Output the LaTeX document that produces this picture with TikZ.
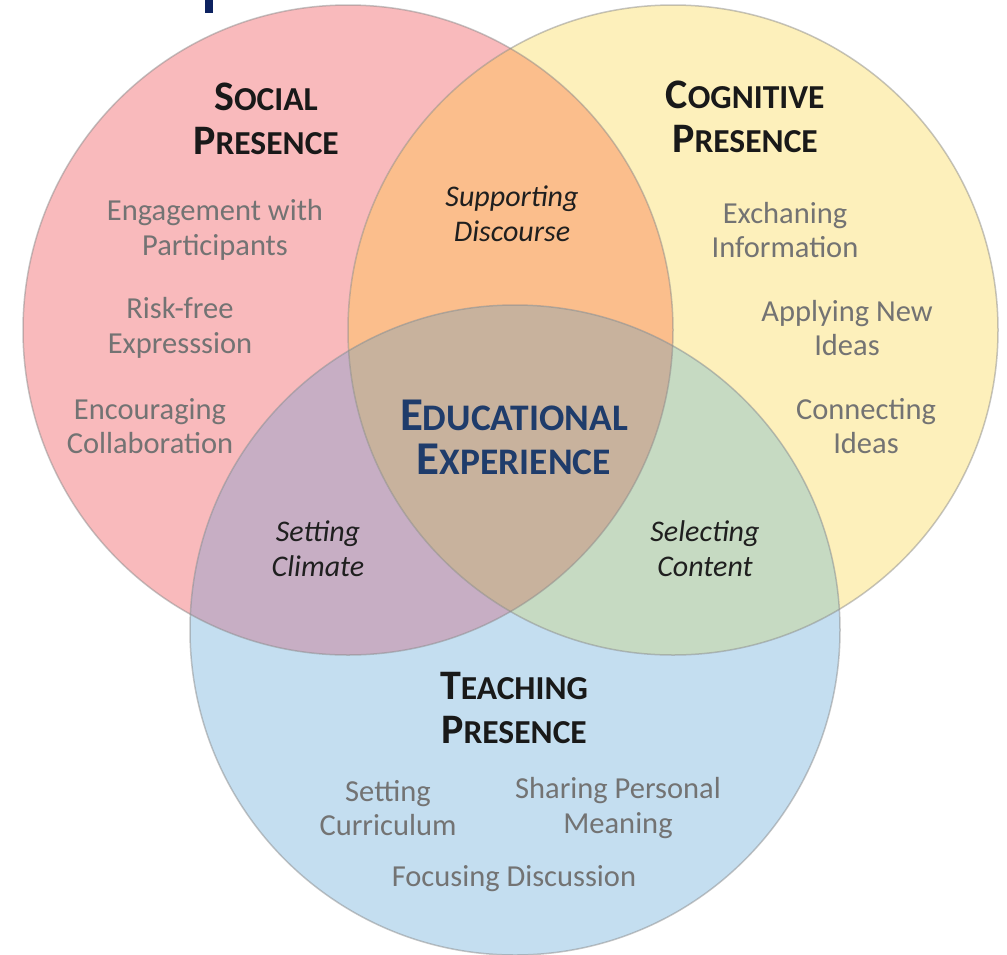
\documentclass[tikz,border=0pt]{standalone}
\usepackage{fontspec}
\setmainfont{Carlito}
\definecolor{socialfill}{HTML}{F9BABC}
\definecolor{cognitivefill}{HTML}{FDF0BB}
\definecolor{teachingfill}{HTML}{C4DEF0}
\definecolor{discoursefill}{HTML}{FBBE8C}
\definecolor{climatefill}{HTML}{C7AEC4}
\definecolor{contentfill}{HTML}{C6DAC2}
\definecolor{experiencefill}{HTML}{C8B29D}
\definecolor{experiencetext}{HTML}{1F3C6B}
\definecolor{topbar}{HTML}{0D2260}
% fake small caps: big first letter, smaller rest
\newcommand{\bigsmall}[2]{{\fontsize{42}{44}\selectfont #1}{\fontsize{33.5}{44}\selectfont #2}}
\newcommand{\hugesmall}[2]{{\fontsize{47}{49}\selectfont #1}{\fontsize{37.5}{49}\selectfont #2}}
\begin{document}
\begin{tikzpicture}[x=1pt,y=-1pt]
	\tikzset{item/.style={align=center, text=black!55, font=\fontsize{30.5}{34.5}\selectfont},
		overlap/.style={align=center, text=black!88, font=\itshape\fontsize{30}{35}\selectfont},
		heading/.style={align=center, text=black!90, font=\bfseries\fontsize{30}{44}\selectfont},
		rim/.style={draw=black!45, draw opacity=0.5, line width=1.5pt}};
	\useasboundingbox (0,0) rectangle (1007,954);
	\coordinate (social) at (348,330);
	\coordinate (cognitive) at (673,330);
	\coordinate (teaching) at (515,630);

	\fill[topbar] (205,0) rectangle (213,13);

	\fill[socialfill] (social) circle (325pt);
	\fill[cognitivefill] (cognitive) circle (325pt);
	\fill[teachingfill] (teaching) circle (325pt);
	\begin{scope}
		\clip (social) circle (325pt);
		\fill[discoursefill] (cognitive) circle (325pt);
		\fill[climatefill] (teaching) circle (325pt);
	\end{scope}
	\begin{scope}
		\clip (cognitive) circle (325pt);
		\fill[contentfill] (teaching) circle (325pt);
	\end{scope}
	\begin{scope}
		\clip (social) circle (325pt);
		\clip (cognitive) circle (325pt);
		\fill[experiencefill] (teaching) circle (325pt);
	\end{scope}
	\foreach \c in {social, cognitive, teaching}
		\draw[rim] (\c) circle (325pt);

	\node[heading] (socialhead) at (266,119) {\bigsmall{S}{OCIAL}\\\bigsmall{P}{RESENCE}};
	\node[heading] (cognitivehead) at (745,117) {\bigsmall{C}{OGNITIVE}\\\bigsmall{P}{RESENCE}};
	\node[heading] (teachinghead) at (514,708) {\bigsmall{T}{EACHING}\\\bigsmall{P}{RESENCE}};
	\node[heading, text=experiencetext] (experience) at (514,437)
		{\hugesmall{E}{DUCATIONAL}\\\hugesmall{E}{XPERIENCE}};

	\foreach \n/\x/\y/\t in {engage/215/230/Engagement with\\Participants,
		riskfree/180/328/Risk-free\\Expresssion,
		collab/150/426/Encouraging\\Collaboration,
		exchange/785/230/Exchaning\\Information,
		applying/847/328/Applying New\\Ideas,
		connecting/866/426/Connecting\\Ideas,
		curriculum/388/808/Setting\\Curriculum,
		meaning/618/808/Sharing Personal\\Meaning,
		focusing/514/879/Focusing Discussion}
		\node[item] (\n) at (\x,\y) {\t};

	\node[overlap] (discourse) at (512,214) {Supporting\\Discourse};
	\node[overlap] (climate) at (318,549) {Setting\\Climate};
	\node[overlap] (content) at (705,549) {Selecting\\Content};
\end{tikzpicture}
\end{document}
